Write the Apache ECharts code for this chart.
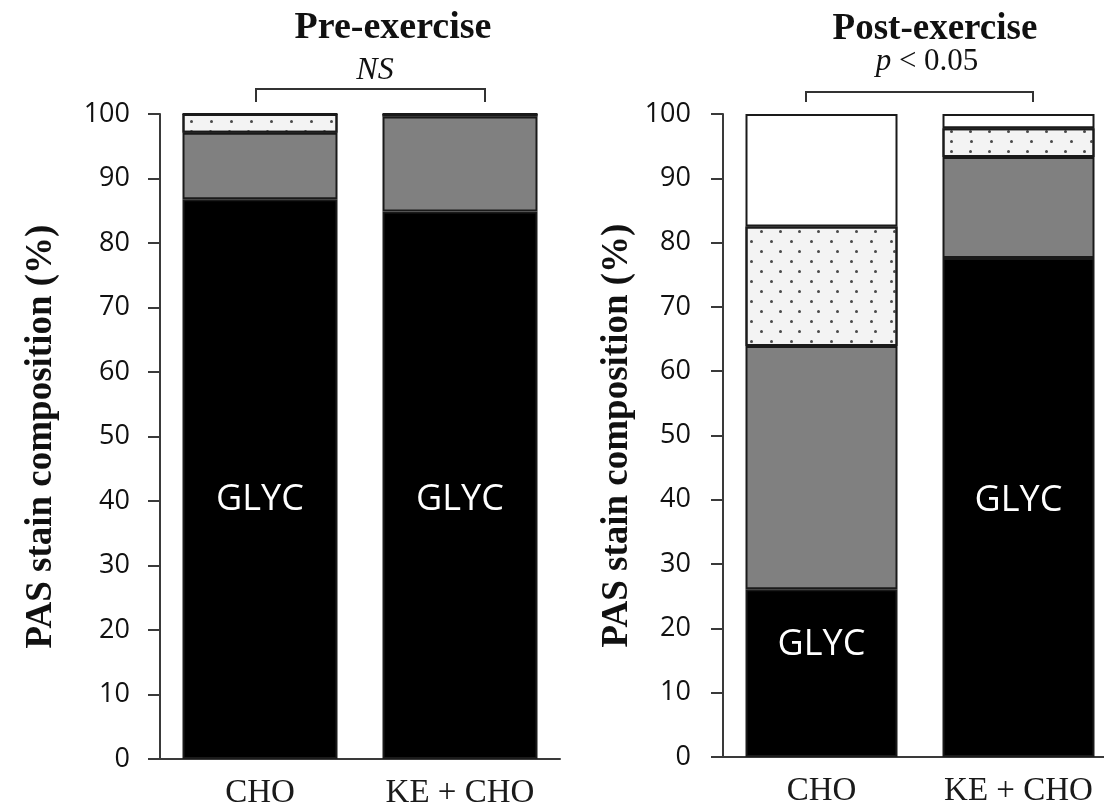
<!DOCTYPE html>
<html>
<head>
<meta charset="utf-8">
<script src="https://cdn.jsdelivr.net/npm/echarts@6/dist/echarts.min.js"></script>
<style>
  html, body { margin: 0; padding: 0; background: #fff; }
  #chart { width: 1104px; height: 810px; }
</style>
</head>
<body>
<div id="chart"></div>
<script>
// Groups on each panel's x-axis
const categories = ['CHO', 'KE + CHO'];

// Y-axis ticks (percent of PAS stain composition)
const yTicks = { min: 0, max: 100, interval: 10 };

// Pre-exercise composition, stacked from the bottom (%)
const preGlyc   = [86.8, 84.9];
const preGrey   = [10.3, 14.7];
const preDotted = [2.9, 0.4];
const preWhite  = [0, 0];

// Post-exercise composition, stacked from the bottom (%)
const postGlyc   = [26.1, 77.6];
const postGrey   = [37.8, 15.7];
const postDotted = [18.6, 4.5];
const postWhite  = [17.5, 2.2];

// Text inside the glycogen segment
const glycText = 'GLYC';
// vertical nudge of that text inside each black segment
const preGlycOffset  = [21, 15];
const postGlycOffset = [-28, -7];

const serif = '"Liberation Serif", "DejaVu Serif", serif';
const sans = '"Open Sans", "Liberation Sans", sans-serif';
const axisColor = '#3a3a3a';
const edge = { borderColor: '#1a1a1a', borderWidth: 2 };

const dots = {
  symbol: 'circle',
  symbolSize: 1,
  color: '#4a4a4a',
  dashArrayX: [[3, 16], [0, 9.5, 3, 6.5]],
  dashArrayY: [3, 6.5],
  rotation: 0
};

function stackSeries(gridIdx, stackName, glyc, grey, dotted, white, offsets, barWidth) {
  const base = { type: 'bar', xAxisIndex: gridIdx, yAxisIndex: gridIdx, stack: stackName, barWidth: barWidth, animation: false };
  return [
    Object.assign({}, base, {
      name: 'GLYC',
      itemStyle: Object.assign({ color: '#000000' }, edge),
      data: glyc.map((v, i) => ({
        value: v,
        label: {
          show: true, position: 'inside', formatter: glycText, offset: [0, offsets[i]],
          color: '#ffffff', fontFamily: sans, fontSize: 36
        }
      }))
    }),
    Object.assign({}, base, {
      name: 'grey',
      itemStyle: Object.assign({ color: '#808080' }, edge),
      data: grey
    }),
    Object.assign({}, base, {
      name: 'dotted',
      itemStyle: Object.assign({ color: '#f3f3f3', decal: dots }, edge),
      data: dotted
    }),
    Object.assign({}, base, {
      name: 'white',
      itemStyle: Object.assign({ color: '#ffffff' }, edge),
      data: white
    })
  ];
}

function xAxisFor(gridIdx) {
  return {
    type: 'category', gridIndex: gridIdx, data: categories,
    axisLine: { lineStyle: { color: axisColor, width: 2 } },
    axisTick: { show: false },
    axisLabel: { interval: 0, hideOverlap: false, color: '#1a1a1a', fontFamily: serif, fontSize: 33, margin: 18 }
  };
}

function yAxisFor(gridIdx, nameGap, labelMargin) {
  return {
    type: 'value', gridIndex: gridIdx,
    min: yTicks.min, max: yTicks.max, interval: yTicks.interval,
    name: 'PAS stain composition (%)', nameLocation: 'middle', nameGap: nameGap,
    nameTextStyle: { fontFamily: serif, fontWeight: 'bold', fontSize: 37, color: '#111' },
    axisLine: { show: true, lineStyle: { color: axisColor, width: 2 } },
    axisTick: { show: true, inside: false, length: 12, lineStyle: { color: axisColor, width: 2 } },
    axisLabel: { color: '#111', fontFamily: sans, fontSize: 27, margin: labelMargin },
    splitLine: { show: false }
  };
}

function bracket(x1, x2, yTop, yBottom) {
  return {
    type: 'polyline',
    shape: { points: [[x1, yBottom], [x1, yTop], [x2, yTop], [x2, yBottom]] },
    style: { stroke: '#333', lineWidth: 2, fill: null }
  };
}

function heading(text, x, y, opts) {
  return {
    type: 'text', x: x, y: y,
    style: Object.assign({ text: text, align: 'center', verticalAlign: 'middle', fill: '#111', fontFamily: serif }, opts)
  };
}

const chart = echarts.init(document.getElementById('chart'), null, { renderer: 'canvas' });

chart.setOption({
  backgroundColor: '#ffffff',
  animation: false,
  grid: [
    { left: 160, right: 544, top: 114, bottom: 51, outerBoundsMode: 'none' },
    { left: 723, right: -13, top: 114, bottom: 53, outerBoundsMode: 'none' }
  ],
  xAxis: [xAxisFor(0), xAxisFor(1)],
  yAxis: [yAxisFor(0, 100, 30), yAxisFor(1, 87, 32)],
  series: [].concat(
    stackSeries(0, 'pre', preGlyc, preGrey, preDotted, preWhite, preGlycOffset, 155),
    stackSeries(1, 'post', postGlyc, postGrey, postDotted, postWhite, postGlycOffset, 152)
  ),
  graphic: [
    heading('Pre-exercise', 393, 28, { fontSize: 38, fontWeight: 'bold' }),
    heading('NS', 375, 71, { fontSize: 32, fontStyle: 'italic' }),
    bracket(256, 485, 89, 102),
    heading('Post-exercise', 935, 29, { fontSize: 37, fontWeight: 'bold' }),
    {
      type: 'text', x: 927, y: 62,
      style: {
        text: '{i|p} < 0.05', align: 'center', verticalAlign: 'middle', fill: '#111',
        fontFamily: serif, fontSize: 31,
        rich: { i: { fontStyle: 'italic', fontFamily: serif, fontSize: 31, fill: '#111' } }
      }
    },
    bracket(806, 1033, 92, 102),
    { type: 'line', shape: { x1: 711, y1: 757, x2: 723, y2: 757 }, style: { stroke: axisColor, lineWidth: 2 } }
  ]
});
</script>
</body>
</html>
